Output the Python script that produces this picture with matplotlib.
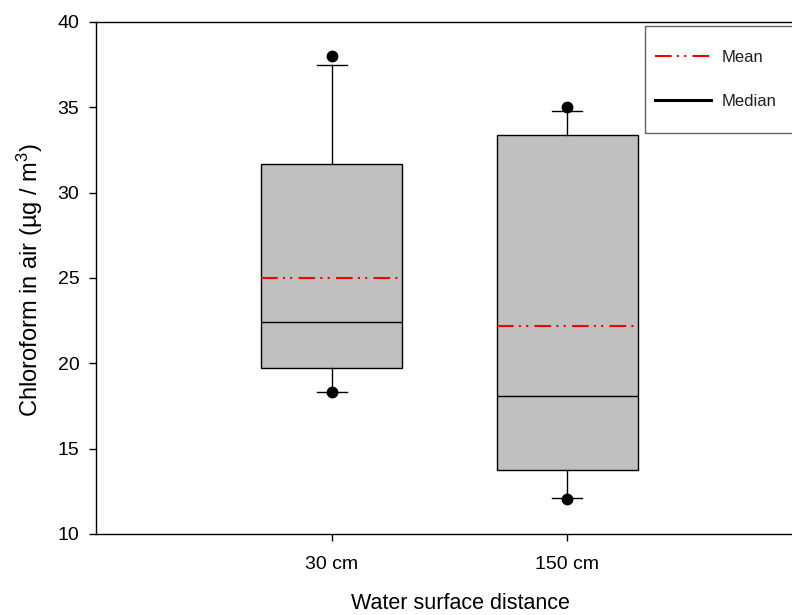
import matplotlib
matplotlib.use("Agg")
import matplotlib.pyplot as plt
from matplotlib.lines import Line2D
from matplotlib.patches import Rectangle

categories = ["30 cm", "150 cm"]
q1 = [19.7, 13.75]
median = [22.4, 18.1]
q3 = [31.7, 33.4]
whisker_low = [18.3, 12.1]
whisker_high = [37.5, 34.8]
mean = [25.0, 22.2]
fliers = [[38.0, 18.3], [35.0, 12.05]]
yticks = [10, 15, 20, 25, 30, 35, 40]

plt.rcParams['font.family'] = ['Liberation Sans', 'DejaVu Sans']
plt.rcParams['mathtext.fontset'] = 'custom'
plt.rcParams['mathtext.rm'] = 'Liberation Sans'
plt.rcParams['mathtext.it'] = 'Liberation Sans'

fig = plt.figure(figsize=(7.92, 6.15), dpi=100)
W, H = 792, 615
ax = fig.add_axes([96 / W, (H - 534) / H, (803 - 96) / W, (534 - 22) / H])

stats = []
for i in range(len(categories)):
    stats.append(dict(med=median[i], q1=q1[i], q3=q3[i], whislo=whisker_low[i],
                      whishi=whisker_high[i], mean=mean[i], fliers=fliers[i],
                      label=categories[i]))

mean_dash = (0, (8, 2.5, 1, 2.5, 1, 3))
ax.bxp(stats, positions=[1, 2], widths=0.6, capwidths=0.127, patch_artist=True,
       showmeans=True, meanline=True,
       boxprops=dict(facecolor='#c0c0c0', edgecolor='black', linewidth=1.0),
       medianprops=dict(color='black', linewidth=1.0),
       meanprops=dict(color='#ff0000', linewidth=1.5, linestyle=mean_dash),
       whiskerprops=dict(color='black', linewidth=1.0),
       capprops=dict(color='black', linewidth=1.0),
       flierprops=dict(marker='o', markerfacecolor='black', markeredgecolor='black',
                       markersize=7.5, linestyle='none'))

ax.set_xlim(0, 3)
ax.set_ylim(10, 40)
ax.set_yticks(yticks)
ax.set_xticks([1, 2])
ax.set_xticklabels(categories)
ax.tick_params(direction='out', length=5, width=1, labelsize=14, pad=7, color='black')
ax.tick_params(axis='x', pad=10.5)
for s in ['left', 'bottom', 'top', 'right']:
    ax.spines[s].set_linewidth(1.0)
    ax.spines[s].set_color('black')

ax.set_xlabel("Water surface distance", fontsize=15.5, va='baseline')
ax.xaxis.set_label_coords((460 - 96) / 707, (534 - 609) / 512)
ax.set_ylabel("Chloroform in air (\u00b5g / m$^3$)", fontsize=17)
ax.yaxis.set_label_coords(-0.072, 0.495)

handles = [Line2D([], [], color='#ff0000', linewidth=1.5, linestyle=mean_dash),
           Line2D([], [], color='black', linewidth=2.2)]
leg = fig.legend(handles, ["Mean", "Median"], loc='upper left',
                 bbox_to_anchor=(645 / W, 1 - 39.5 / H), borderaxespad=0,
                 fontsize=12, frameon=False, handlelength=3.35, handletextpad=0.66,
                 labelspacing=1.75, borderpad=0.6)
for t in leg.get_texts():
    t.set_color('#202020')
fig.add_artist(Rectangle((645 / W, 1 - 133 / H), 0.3, (133 - 26) / H,
                         transform=fig.transFigure, fill=False,
                         edgecolor='#606060', linewidth=1.0))

fig.savefig("out.png", dpi=100)
